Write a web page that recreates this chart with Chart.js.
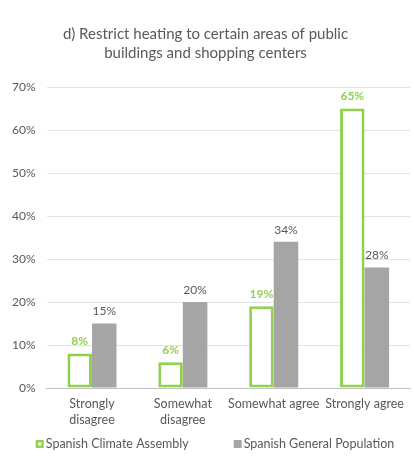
<!DOCTYPE html>
<html>
<head>
<meta charset="utf-8">
<script src="https://cdn.jsdelivr.net/npm/chart.js@4"></script>
<style>
	html, body { margin: 0; padding: 0; background: #fff; }
	#wrap { width: 414px; height: 472px; position: relative; }
</style>
</head>
<body>
<div id="wrap"><canvas id="myChart"></canvas></div>
<script>
// survey answers, share of respondents in %
var categories = [['Strongly', 'disagree'], ['Somewhat', 'disagree'], 'Somewhat agree', 'Strongly agree'];
var assemblyValues = [8, 6, 19, 65];
var populationValues = [15, 20, 34, 28];
var yTicks = [0, 10, 20, 30, 40, 50, 60, 70];

var green = '#92D050';
var grey = '#A5A5A5';
var textGrey = '#595959';
var fontName = 'Lato, "Open Sans", sans-serif';

// writes the percentage above each bar
var valueLabels = {
	id: 'valueLabels',
	afterDatasetsDraw: function(chart) {
		var ctx = chart.ctx;
		ctx.save();
		ctx.textAlign = 'center';
		ctx.textBaseline = 'bottom';
		chart.data.datasets.forEach(function(ds, i) {
			var meta = chart.getDatasetMeta(i);
			ctx.fillStyle = i === 0 ? green : textGrey;
			ctx.font = (i === 0 ? 'bold ' : '') + '12px ' + fontName;
			meta.data.forEach(function(bar, j) {
				ctx.fillText(ds.data[j] + '%', bar.x, bar.y - 6);
			});
		});
		ctx.restore();
	}
};

// legend row under the axis, wider spacing than the built-in one allows
var wideLegend = {
	id: 'wideLegend',
	afterDraw: function(chart) {
		var ctx = chart.ctx;
		var y = chart.height - 28;
		var gap = 45;
		ctx.save();
		ctx.font = '12.5px ' + fontName;
		ctx.textBaseline = 'middle';
		var items = chart.data.datasets.map(function(ds) {
			return { ds: ds, w: 8 + 2 + ctx.measureText(ds.label).width };
		});
		var total = items[0].w + gap + items[1].w;
		var x = 215 - total / 2;
		items.forEach(function(it, i) {
			if (i === 0) {
				ctx.fillStyle = '#ffffff';
				ctx.fillRect(x, y - 4, 8, 8);
				ctx.strokeStyle = green;
				ctx.lineWidth = 2.5;
				ctx.strokeRect(x + 1.25, y - 2.75, 5.5, 5.5);
			} else {
				ctx.fillStyle = grey;
				ctx.fillRect(x, y - 4, 8, 8);
			}
			ctx.fillStyle = textGrey;
			ctx.fillText(it.ds.label, x + 10, y);
			x += it.w + gap;
		});
		ctx.restore();
	}
};

function loadChart() {
	var ctx = document.getElementById('myChart');
	new Chart(ctx, {
		type: 'bar',
		data: {
			labels: categories,
			datasets: [
				{
					label: 'Spanish Climate Assembly',
					data: assemblyValues,
					backgroundColor: '#ffffff',
					borderColor: green,
					borderWidth: 3,
					borderSkipped: false
				},
				{
					label: 'Spanish General Population',
					data: populationValues,
					backgroundColor: grey,
					borderColor: grey,
					borderWidth: 0
				}
			]
		},
		options: {
			responsive: true,
			maintainAspectRatio: false,
			animation: false,
			layout: { padding: { left: 1, right: 4, top: 8, bottom: 44 } },
			datasets: {
				bar: { categoryPercentage: 0.54, barPercentage: 1 }
			},
			plugins: {
				title: {
					display: true,
					text: ['d) Restrict heating to certain areas of public', 'buildings and shopping centers'],
					color: textGrey,
					font: { family: fontName, size: 15, weight: 'normal', lineHeight: 1.3 },
					padding: { top: 16, bottom: 24 }
				},
				legend: { display: false },
				tooltip: { enabled: false }
			},
			scales: {
				x: {
					grid: { display: false },
					border: { color: '#BFBFBF' },
					ticks: {
						color: textGrey,
						font: { family: fontName, size: 12.5, lineHeight: 1.28 },
						padding: 0,
						maxRotation: 0,
						autoSkip: false
					}
				},
				y: {
					min: 0,
					max: 70,
					afterBuildTicks: function(axis) {
						axis.ticks = yTicks.map(function(v) { return { value: v }; });
					},
					grid: { color: '#E3E3E3', drawTicks: false },
					border: { display: false },
					ticks: {
						color: textGrey,
						font: { family: fontName, size: 12 },
						padding: 11,
						callback: function(v) { return v + '%'; }
					}
				}
			}
		},
		plugins: [valueLabels, wideLegend]
	});
}

loadChart();
</script>
</body>
</html>
